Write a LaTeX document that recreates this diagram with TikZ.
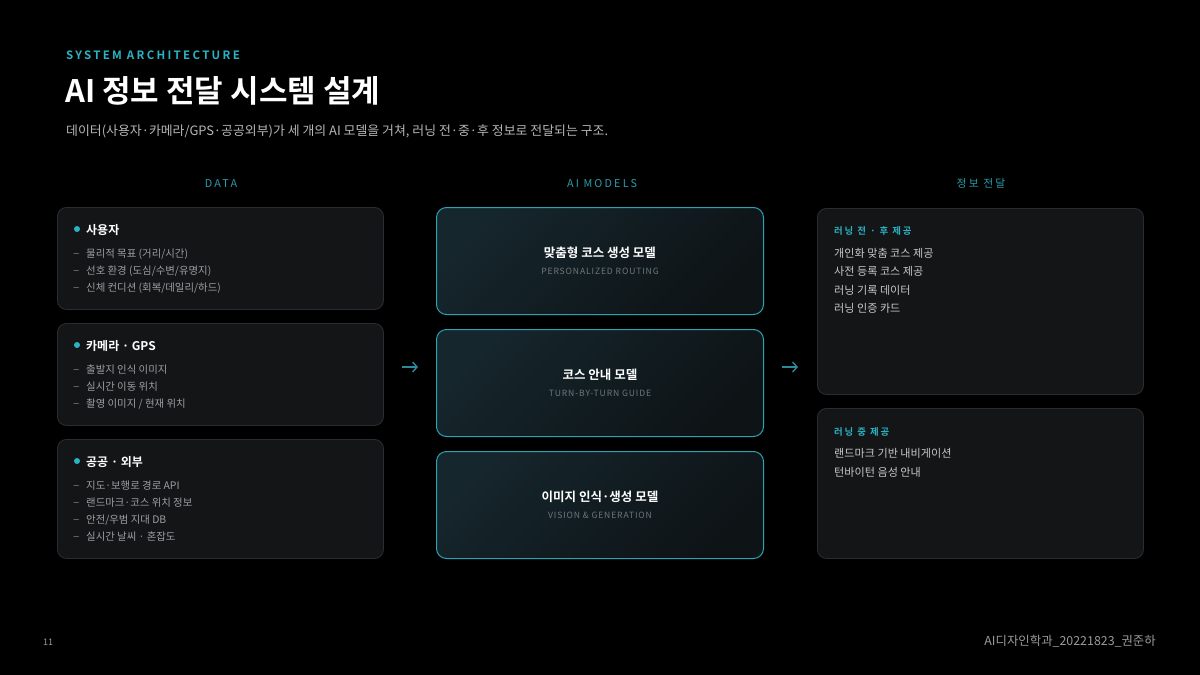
\documentclass[tikz,border=0pt]{standalone}
\usepackage{fontspec}
\usetikzlibrary{arrows.meta}
\setmainfont[BoldFont={Noto Sans CJK KR Bold}]{Noto Sans CJK KR}
\newfontfamily\spcfont[LetterSpace=20,BoldFont={Noto Sans CJK KR Bold}]{Noto Sans CJK KR}
\newfontfamily\spcsmall[LetterSpace=10,BoldFont={Noto Sans CJK KR Bold}]{Noto Sans CJK KR}
\definecolor{accent}{HTML}{2BB3C3}
\definecolor{accentdim}{HTML}{2A9DAC}
\definecolor{boxfill}{HTML}{141517}
\definecolor{boxline}{HTML}{2A2C2F}
\definecolor{itemgray}{HTML}{9C9EA2}
\definecolor{dashgray}{HTML}{76787C}
\definecolor{subgray}{HTML}{B4B6B8}
\definecolor{rgtext}{HTML}{C6C8CA}
\definecolor{mline}{HTML}{2BA3B3}
\definecolor{mfillA}{HTML}{15262C}
\definecolor{mfillB}{HTML}{0E1316}
\definecolor{msub}{HTML}{6E777B}
\definecolor{arrowc}{HTML}{2A8C98}
\definecolor{footgray}{HTML}{9A9A9A}
\begin{document}
\begin{tikzpicture}[x=1pt,y=-1pt,
  txt/.style={inner sep=0pt, anchor=mid west, yshift=-2.5pt},
  eyebrow/.style={txt, text=accent, font=\spcfont\bfseries\fontsize{11.5}{13}\selectfont},
  bigtitle/.style={txt, text=white, font=\bfseries\fontsize{31}{36}\selectfont},
  subline/.style={txt, text=subgray, font=\fontsize{12.9}{15}\selectfont},
  colhead/.style={inner sep=0pt, anchor=mid, yshift=-2.5pt, text=accentdim, font=\spcfont\fontsize{10.8}{13}\selectfont},
  boxL/.style={draw=boxline, fill=boxfill, rounded corners=9pt, line width=0.9pt, anchor=north west, inner sep=0pt},
  boxM/.style={draw=mline, top color=mfillA, bottom color=mfillB, shading angle=45, rounded corners=10pt, line width=1pt, anchor=north west, inner sep=0pt},
  dot/.style={circle, fill=accent, inner sep=0pt, minimum size=6pt},
  ltitle/.style={txt, text=white, font=\bfseries\fontsize{12}{14}\selectfont},
  dashmark/.style={txt, text=dashgray, font=\fontsize{12}{13}\selectfont},
  item/.style={txt, text=itemgray, font=\fontsize{10.4}{13}\selectfont},
  mtitle/.style={inner sep=0pt, anchor=mid, yshift=-2.5pt, text=white, font=\bfseries\fontsize{12.5}{15}\selectfont},
  msubt/.style={inner sep=0pt, anchor=mid, yshift=-2pt, text=msub, font=\spcsmall\fontsize{8.6}{10}\selectfont},
  rhead/.style={txt, text=accent, font=\spcfont\bfseries\fontsize{9.4}{11}\selectfont},
  ritem/.style={txt, text=rgtext, font=\fontsize{11.1}{13}\selectfont},
  flow/.style={draw=arrowc, line width=1.4pt, -{Straight Barb[length=4.5pt,width=10pt,line width=1.4pt]}},
  foot/.style={inner sep=0pt, yshift=-2pt, text=footgray, font=\fontsize{12.4}{14}\selectfont}
]
\fill[black] (0,0) rectangle (1200,675);
\useasboundingbox (0,0) rectangle (1200,675);

% header
\node[eyebrow] (eyebrow) at (66,54) {SYSTEM ARCHITECTURE};
\node[bigtitle] (title) at (65,97) {AI 정보 전달 시스템 설계};
\node[subline] (subtitle) at (66,130) {데이터(사용자·카메라/GPS·공공외부)가 세 개의 AI 모델을 거쳐, 러닝 전·중·후 정보로 전달되는 구조.};

% column headers
\node[colhead] (hdata) at (221,182) {DATA};
\node[colhead] (hmodel) at (602,182) {AI MODELS};
\node[colhead] (hout) at (981,182) {정보 전달};

% left column
\node[boxL, minimum width=326pt, minimum height=102pt] (b1) at (57,207) {};
\node[dot] (b1dot) at (77,229) {};
\node[ltitle] (b1t) at (86,229) {사용자};
\node[dashmark] (b1d1) at (73,252) {–};
\node[item] (b1i1) at (86,252) {물리적 목표 (거리/시간)};
\node[dashmark] (b1d2) at (73,269) {–};
\node[item] (b1i2) at (86,269) {선호 환경 (도심/수변/유명지)};
\node[dashmark] (b1d3) at (73,286) {–};
\node[item] (b1i3) at (86,286) {신체 컨디션 (회복/데일리/하드)};

\node[boxL, minimum width=326pt, minimum height=102pt] (b2) at (57,323) {};
\node[dot] (b2dot) at (77,345) {};
\node[ltitle] (b2t) at (86,345) {카메라 · GPS};
\node[dashmark] (b2d1) at (73,368) {–};
\node[item] (b2i1) at (86,368) {출발지 인식 이미지};
\node[dashmark] (b2d2) at (73,385) {–};
\node[item] (b2i2) at (86,385) {실시간 이동 위치};
\node[dashmark] (b2d3) at (73,402) {–};
\node[item] (b2i3) at (86,402) {촬영 이미지 / 현재 위치};

\node[boxL, minimum width=326pt, minimum height=119pt] (b3) at (57,439) {};
\node[dot] (b3dot) at (77,461) {};
\node[ltitle] (b3t) at (86,461) {공공 · 외부};
\node[dashmark] (b3d1) at (73,484) {–};
\node[item] (b3i1) at (86,484) {지도·보행로 경로 API};
\node[dashmark] (b3d2) at (73,501) {–};
\node[item] (b3i2) at (86,501) {랜드마크·코스 위치 정보};
\node[dashmark] (b3d3) at (73,518) {–};
\node[item] (b3i3) at (86,518) {안전/우범 지대 DB};
\node[dashmark] (b3d4) at (73,535) {–};
\node[item] (b3i4) at (86,535) {실시간 날씨 · 혼잡도};

% middle column
\node[boxM, minimum width=327pt, minimum height=107pt] (m1) at (436,207) {};
\node[mtitle] (m1t) at (600,252) {맞춤형 코스 생성 모델};
\node[msubt] (m1s) at (600,269.5) {PERSONALIZED ROUTING};

\node[boxM, minimum width=327pt, minimum height=107pt] (m2) at (436,329) {};
\node[mtitle] (m2t) at (600,374) {코스 안내 모델};
\node[msubt] (m2s) at (600,391.5) {TURN-BY-TURN GUIDE};

\node[boxM, minimum width=327pt, minimum height=107pt] (m3) at (436,451) {};
\node[mtitle] (m3t) at (600,496) {이미지 인식·생성 모델};
\node[msubt] (m3s) at (600,513.5) {VISION \& GENERATION};

% right column
\node[boxL, minimum width=326pt, minimum height=186pt] (r1) at (817,208) {};
\node[rhead] (r1h) at (834,229) {러닝 전 · 후 제공};
\node[ritem] (r1i1) at (834,252) {개인화 맞춤 코스 제공};
\node[ritem] (r1i2) at (834,270.5) {사전 등록 코스 제공};
\node[ritem] (r1i3) at (834,289) {러닝 기록 데이터};
\node[ritem] (r1i4) at (834,307.5) {러닝 인증 카드};

\node[boxL, minimum width=326pt, minimum height=150pt] (r2) at (817,408) {};
\node[rhead] (r2h) at (834,430) {러닝 중 제공};
\node[ritem] (r2i1) at (834,452) {랜드마크 기반 내비게이션};
\node[ritem] (r2i2) at (834,471) {턴바이턴 음성 안내};

% flow arrows
\coordinate (a1s) at (402,367);
\coordinate (a1e) at (418,367);
\coordinate (a2s) at (782,367);
\coordinate (a2e) at (798,367);
\draw[flow] (a1s) -- (a1e);
\draw[flow] (a2s) -- (a2e);

% footer
\node[foot, anchor=mid west, font=\fontsize{9}{11}\selectfont] (pnum) at (43,641) {11};
\node[foot, anchor=mid east] (credit) at (1156,641) {AI디자인학과\_20221823\_권준하};
\end{tikzpicture}
\end{document}
